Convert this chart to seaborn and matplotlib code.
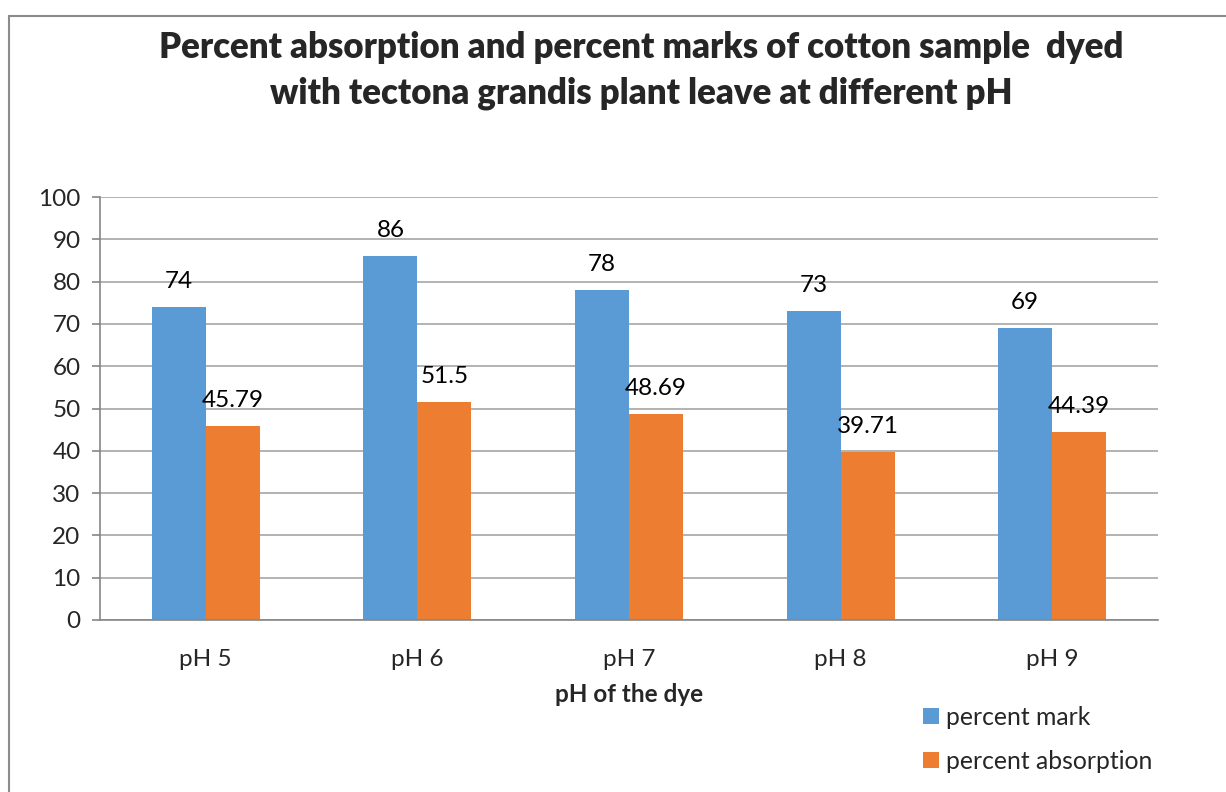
import matplotlib
matplotlib.use("Agg")
import matplotlib.pyplot as plt
import matplotlib.patches as mpatches
import numpy as np
import pandas as pd
import seaborn as sns

categories = ["pH 5", "pH 6", "pH 7", "pH 8", "pH 9"]
percent_mark = [74, 86, 78, 73, 69]
percent_absorption = [45.79, 51.5, 48.69, 39.71, 44.39]
series_names = ["percent mark", "percent absorption"]
value_labels = {
    "percent mark": ["74", "86", "78", "73", "69"],
    "percent absorption": ["45.79", "51.5", "48.69", "39.71", "44.39"],
}
y_ticks = [0, 10, 20, 30, 40, 50, 60, 70, 80, 90, 100]

df = pd.DataFrame({
    "pH": categories * 2,
    "series": [series_names[0]] * len(categories) + [series_names[1]] * len(categories),
    "value": percent_mark + percent_absorption,
})

sns.set_theme(style="white")
plt.rcParams["font.family"] = ["Lato", "DejaVu Sans"]

W, H = 1226, 792
fig = plt.figure(figsize=(W / 100, H / 100), dpi=100)
ax = fig.add_axes([100 / W, (H - 620) / H, (1158 - 100) / W, (620 - 197) / H])

palette = {"percent mark": "#5B9BD5", "percent absorption": "#ED7D31"}
sns.barplot(data=df, x="pH", y="value", hue="series", hue_order=series_names,
            order=categories, palette=palette, width=0.51, gap=0,
            saturation=1, ax=ax, legend=True, linewidth=0)

for container, name in zip(ax.containers, series_names):
    ax.bar_label(container, labels=value_labels[name], padding=11,
                 fontsize=17.5, color="#000000")

ax.set_ylim(0, 100)
ax.set_xlim(-0.5, len(categories) - 0.5)
ax.set_yticks(y_ticks)
ax.set_yticklabels([str(t) for t in y_ticks], fontsize=17.5)
ax.yaxis.grid(True, color="#A6A6A6", linewidth=1.2)
ax.set_axisbelow(True)

ax.set_xticks(range(len(categories)))
ax.set_xticklabels(categories, fontsize=17.5)
ax.set_xticks(np.arange(-0.5, len(categories), 1.0), minor=True)
ax.tick_params(axis="x", which="major", length=0, pad=21)
ax.tick_params(axis="x", which="minor", length=6, width=1.2, color="#868686", direction="out")
ax.tick_params(axis="y", which="major", length=6, width=1.2, color="#868686",
               direction="out", pad=8, left=True)

for side in ["top", "right"]:
    ax.spines[side].set_visible(False)
for side in ["left", "bottom"]:
    ax.spines[side].set_color("#868686")
    ax.spines[side].set_linewidth(1.2)

ax.set_ylabel("")
ax.set_xlabel("pH of the dye", fontsize=17.5, fontweight="bold", labelpad=9)

handles, labels = ax.get_legend_handles_labels()
ax.get_legend().remove()
fig.legend(handles, labels, loc="upper left",
           bbox_to_anchor=(913 / W, 1 - 696 / H), frameon=False,
           fontsize=17.8, handlelength=0.65, handleheight=0.65,
           handletextpad=0.3, labelspacing=0.85, borderaxespad=0)

fig.text(641 / W, 1 - 47 / H,
         "Percent absorption and percent marks of cotton sample  dyed",
         ha="center", va="center", fontsize=25, fontweight="heavy")
fig.text(641 / W, 1 - 93 / H,
         "with tectona grandis plant leave at different pH",
         ha="center", va="center", fontsize=25, fontweight="heavy")

border = mpatches.Rectangle((9 / W, -0.1), 1.2, 1 - 16 / H + 0.1,
                            transform=fig.transFigure, fill=False,
                            edgecolor="#8C8C8C", linewidth=1.5, clip_on=False)
fig.patches.append(border)

fig.savefig("out.png", dpi=100)
